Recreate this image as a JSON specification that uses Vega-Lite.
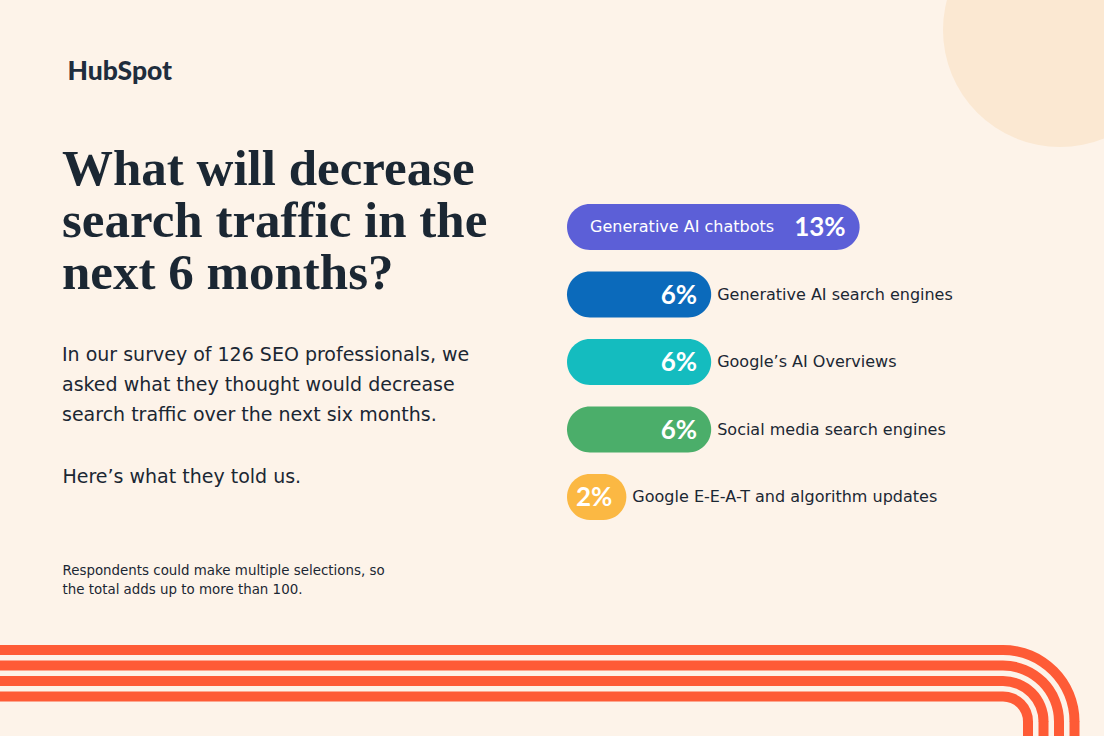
{
  "$schema": "https://vega.github.io/schema/vega-lite/v6.json",
  "width": 1104,
  "height": 736,
  "autosize": {"type": "none"},
  "padding": 0,
  "background": "#fdf3e9",
  "config": {"view": {"stroke": null}, "font": "DejaVu Sans"},
  "title": {
    "text": ["What will decrease", "search traffic in the", "next 6 months?"],
    "subtitle": ["In our survey of 126 SEO professionals, we", "asked what they thought would decrease", "search traffic over the next six months."],
    "anchor": "start",
    "frame": "group",
    "orient": "top",
    "offset": 0,
    "dx": 62,
    "dy": 513,
    "font": "Liberation Serif",
    "fontSize": 51,
    "fontWeight": "bold",
    "color": "#1b2733",
    "lineHeight": 52,
    "subtitleFont": "DejaVu Sans",
    "subtitleFontSize": 19,
    "subtitleColor": "#1b2733",
    "subtitleLineHeight": 30,
    "subtitlePadding": 46
  },
  "resolve": {"scale": {"x": "independent", "y": "independent"}},
  "layer": [
    {
      "data": {"values": [{"shape": "circle"}]},
      "mark": {"type": "point", "shape": "circle", "filled": true, "size": 54756, "color": "#fbe8d2", "opacity": 1},
      "encoding": {"x": {"value": 1060}, "y": {"value": 30}}
    },
    {
      "data": {"values": [{"stripe": 1}, {"stripe": 2}, {"stripe": 3}, {"stripe": 4}]},
      "mark": {"type": "rule", "strokeWidth": 10, "color": "#fe5b36"},
      "encoding": {
        "y": {"field": "stripe", "type": "quantitative", "scale": {"domain": [1, 4], "range": [650, 696.5], "zero": false, "nice": false}, "axis": null},
        "x": {"value": 0},
        "x2": {"value": 1003}
      }
    },
    {
      "data": {"values": [{"stripe": 1}, {"stripe": 2}, {"stripe": 3}, {"stripe": 4}]},
      "mark": {"type": "arc", "color": "#fe5b36", "theta": 0, "theta2": 1.5708, "radiusOffset": 5, "radius2Offset": -5},
      "encoding": {
        "radius": {"field": "stripe", "type": "quantitative", "scale": {"type": "linear", "domain": [1, 4], "range": [71.5, 25], "zero": false, "nice": false}},
        "radius2": {"field": "stripe"},
        "x": {"value": 1003},
        "y": {"value": 721.5}
      }
    },
    {
      "data": {"values": [{"stripe": 1}, {"stripe": 2}, {"stripe": 3}, {"stripe": 4}]},
      "mark": {"type": "rule", "strokeWidth": 10, "color": "#fe5b36"},
      "encoding": {
        "x": {"field": "stripe", "type": "quantitative", "scale": {"domain": [1, 4], "range": [1074.5, 1028], "zero": false, "nice": false},
          "axis": {"orient": "top", "domain": false, "ticks": false, "labels": false, "grid": false, "title": "Here’s what they told us.", "titleX": 62, "titleY": 482, "titleAlign": "left", "titleAnchor": "start", "titleBaseline": "alphabetic", "titleFont": "DejaVu Sans", "titleFontSize": 19, "titleFontWeight": "normal", "titleColor": "#1b2733"}},
        "y": {"value": 721},
        "y2": {"value": 740}
      }
    },
    {
      "data": {"values": [
        {"factor": "Generative AI chatbots", "share": 0.13},
        {"factor": "Generative AI search engines", "share": 0.06},
        {"factor": "Google’s AI Overviews", "share": 0.06},
        {"factor": "Social media search engines", "share": 0.06},
        {"factor": "Google E-E-A-T and algorithm updates", "share": 0.02}
      ]},
      "encoding": {
        "y": {
          "field": "factor", "type": "nominal", "sort": null,
          "scale": {"domain": ["Generative AI chatbots", "Generative AI search engines", "Google’s AI Overviews", "Social media search engines", "Google E-E-A-T and algorithm updates"], "range": [193.25, 530.75], "paddingInner": 0.32, "paddingOuter": 0.16},
          "axis": {"domain": false, "ticks": false, "labels": false, "grid": false, "title": "HubSpot", "titleAngle": 0, "titleX": 67, "titleY": 79, "titleAlign": "left", "titleBaseline": "alphabetic", "titleFont": "Lato", "titleFontSize": 26.5, "titleFontWeight": 900, "titleColor": "#1f2d3d"}
        },
        "x": {
          "field": "share", "type": "quantitative",
          "scale": {"domain": [-0.008, 0.13], "range": [567, 859.6], "zero": false, "nice": false},
          "axis": {"domain": false, "ticks": false, "labels": false, "grid": false, "title": ["Respondents could make multiple selections, so", "the total adds up to more than 100."], "titleX": 62, "titleY": -162, "titleAlign": "left", "titleAnchor": "start", "titleBaseline": "alphabetic", "titleFont": "DejaVu Sans", "titleFontSize": 13.4, "titleFontWeight": "normal", "titleColor": "#1b2733", "titleLineHeight": 19}
        }
      },
      "layer": [
        {
          "mark": {"type": "bar", "cornerRadius": 23},
          "encoding": {
            "x2": {"datum": -0.008},
            "color": {"field": "factor", "type": "nominal", "legend": null,
              "scale": {"domain": ["Generative AI chatbots", "Generative AI search engines", "Google’s AI Overviews", "Social media search engines", "Google E-E-A-T and algorithm updates"], "range": ["#5c5fd7", "#0b6abb", "#14bcbf", "#4bae6a", "#fbb843"]}}
          }
        },
        {
          "mark": {"type": "text", "align": "right", "baseline": "middle", "dx": -14, "dy": 1, "font": "Lato", "fontWeight": "bold", "fontSize": 26, "color": "#ffffff"},
          "encoding": {"text": {"field": "share", "type": "quantitative", "format": ".0%"}}
        },
        {
          "transform": [{"filter": "datum.share < 0.1"}],
          "mark": {"type": "text", "align": "left", "baseline": "middle", "dx": 6, "font": "DejaVu Sans", "fontSize": 16, "color": "#1b2733"},
          "encoding": {"text": {"field": "factor", "type": "nominal"}}
        },
        {
          "transform": [{"filter": "datum.share >= 0.1"}],
          "mark": {"type": "text", "align": "left", "baseline": "middle", "dx": 23, "font": "DejaVu Sans", "fontSize": 16, "color": "#ffffff"},
          "encoding": {"x": {"datum": -0.008}, "text": {"field": "factor", "type": "nominal"}}
        }
      ]
    }
  ]
}
